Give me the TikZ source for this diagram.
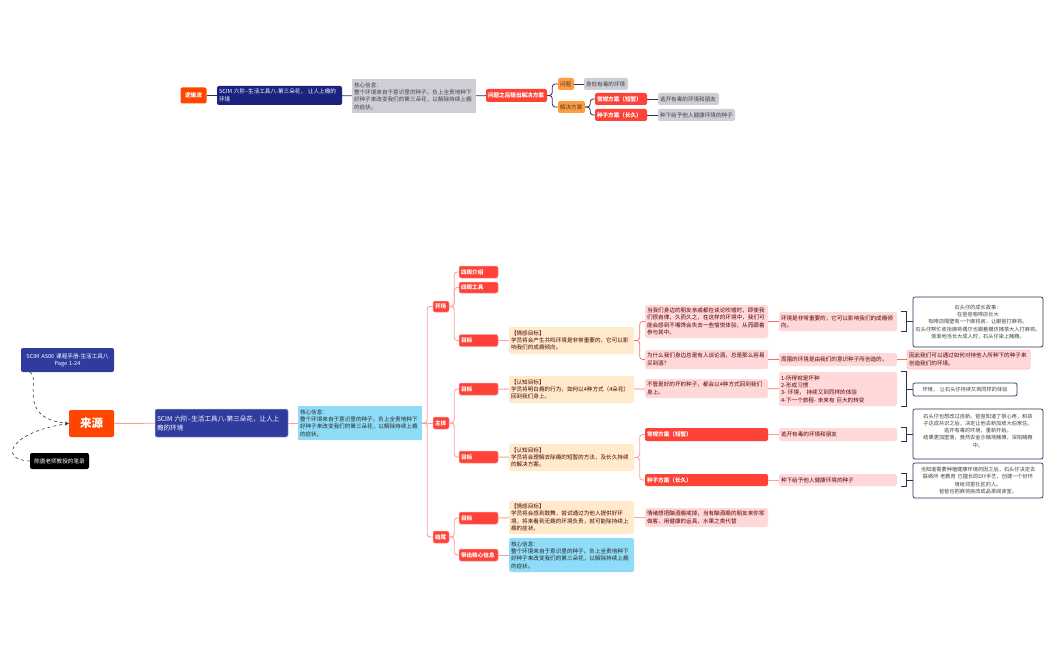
\documentclass[tikz,border=0pt]{standalone}
\usepackage{fontspec}
\setmainfont{Noto Sans CJK SC}
\XeTeXlinebreaklocale "zh"
\XeTeXlinebreakskip=0pt
\usetikzlibrary{arrows.meta,calc}
\definecolor{srcred}{HTML}{FF4500}
\definecolor{tagred}{HTML}{FF4238}
\definecolor{linkpink}{HTML}{FF9C9C}
\definecolor{softpink}{HTML}{FFD9D9}
\definecolor{cream}{HTML}{FFEBCC}
\definecolor{skyblue}{HTML}{8EDCF8}
\definecolor{ashgray}{HTML}{CDCED6}
\definecolor{amber}{HTML}{FF9D3D}
\definecolor{navy}{HTML}{1A237E}
\definecolor{indigo}{HTML}{2F3C9E}
\definecolor{inkline}{HTML}{2E2F55}
\tikzset{
	wh/.style 2 args={minimum width=#1pt,minimum height=#2pt,text width=#1pt-4pt,inner xsep=2pt,inner ysep=0pt,align=left},
	base/.style={rounded corners=2pt,font=\fontsize{5.6}{7.3}\selectfont},
	tag/.style={base,fill=tagred,draw=linkpink,line width=.5pt,text=white,font=\fontsize{5.6}{7.3}\selectfont\bfseries},
	amberbox/.style={base,fill=amber,text=black!75},
	graybox/.style={base,fill=ashgray,text=black!75},
	pinkbox/.style={base,fill=softpink,text=red!35!black},
	creambox/.style={base,fill=cream,text=red!30!black},
	bluebox/.style={base,fill=skyblue,text=black!85},
	storybox/.style={base,fill=white,draw=inkline,line width=.7pt,text=black!75,font=\fontsize{5.2}{7.2}\selectfont},
	link/.style={draw=linkpink,line width=.9pt,rounded corners=3pt},
	hotlink/.style={draw=tagred!80,line width=.7pt,rounded corners=3pt},
	inklink/.style={draw=inkline,line width=.8pt,rounded corners=3pt},
	bracket/.style={draw=inkline,line width=.8pt},
	srcarrow/.style={draw=inkline,line width=.6pt,dashed,-{Stealth[length=4pt]}}
}
\begin{document}
\begin{tikzpicture}[x=1pt,y=-1pt]
	\useasboundingbox (0,0) rectangle (1050,650);
	% top branch
	\node[base,wh={26}{16},fill=srcred,text=white,align=center,font=\fontsize{5.6}{7}\selectfont\bfseries] (flow) at (193.5,95.5) {逻辑流};
	\node[base,wh={125}{19},fill=navy,text=white] (topscim) at (279.5,95.5) {SCIM 六阶--生活工具八-第三朵花， 让人上瘾的环境};
	\node[graybox,wh={124}{34},rounded corners=0pt] (topcore) at (414,96) {核心信息：\\整个环境来自于意识里的种子。负上全责地种下好种子来改变我们的第三朵花，以解除持续上瘾的症状。};
	\node[tag,wh={61}{13},draw=none] (plan) at (516.5,95.5) {问题之后提出解决方案};
	\node[amberbox,wh={16}{12}] (issue) at (566,84) {问题};
	\node[amberbox,wh={27}{12}] (solve) at (571.5,107) {解决方案};
	\node[graybox,wh={44}{12}] (toxic) at (606,84) {身处有毒的环境};
	\node[tag,wh={52}{12},draw=none] (topshort) at (621,99) {常规方案（短暂）};
	\node[tag,wh={52}{12},draw=none] (toplong) at (621,115) {种子方案（长久）};
	\node[graybox,wh={61}{12}] (topleave) at (688.5,99) {逃开有毒的环境和朋友};
	\node[graybox,wh={77}{12}] (topseed) at (696.5,115) {种下给予他人健康环境的种子};
	\draw[inklink] (flow) -- (topscim);
	\draw[inklink] (topscim) -- (topcore);
	\draw[inklink] (topcore) -- (plan);
	\draw[inklink] (plan.east) -- ++(5,0) |- (issue.west);
	\draw[inklink] (plan.east) -- ++(5,0) |- (solve.west);
	\draw[inklink] (issue) -- (toxic);
	\draw[inklink] (solve.east) -- ++(5,0) |- (topshort.west);
	\draw[inklink] (solve.east) -- ++(5,0) |- (toplong.west);
	\draw[inklink] (topshort) -- (topleave);
	\draw[inklink] (toplong) -- (topseed);
	% source side
	\node[base,wh={93}{24},fill=indigo,text=white,align=center] (manual) at (67.5,360) {SCIM AS06 课程手册-生活工具八\\Page 1-24};
	\node[base,wh={45}{27},fill=srcred,text=white,align=center,font=\fontsize{11.5}{13}\selectfont\bfseries] (source) at (91.5,423.5) {来源};
	\node[base,wh={59}{16},fill=black,text=white,align=center] (notes) at (59.5,461) {陈唐老师教授的笔录};
	\node[base,wh={133}{28},fill=indigo,text=white,draw=indigo!40,line width=.5pt,font=\fontsize{6.6}{9}\selectfont] (scim) at (221.5,423) {SCIM 六阶--生活工具八-第三朵花，让人上瘾的环境};
	\node[bluebox,wh={124}{34},rounded corners=0pt] (core) at (360,423) {核心信息：\\整个环境来自于意识里的种子。负上全责地种下好种子来改变我们的第三朵花，以解除持续上瘾的症状。};
	\draw[srcarrow] (manual.south west) ++(9,0) .. controls (42,378) and (15,418) .. (source.west);
	\draw[srcarrow] (notes.west) .. controls (-2,460) and (10,432) .. (source.west);
	\draw[link] (source) -- (scim);
	\draw[link] (scim) -- (core);
	% parts
	\node[tag,wh={16}{11}] (open) at (441,306.5) {开场};
	\node[tag,wh={16}{12}] (body) at (441,423) {主体};
	\node[tag,wh={16}{12}] (close) at (441,537) {结尾};
	\draw[link] (core) -- (body);
	\draw[link] (core.east) -- ++(5,0) |- (open.west);
	\draw[link] (core.east) -- ++(5,0) |- (close.west);
	\node[tag,wh={39}{12}] (intro) at (478.5,272) {四周介绍};
	\node[tag,wh={39}{11}] (tool) at (478.5,287.5) {四周工具};
	\node[tag,wh={39}{12}] (goala) at (478.5,340.5) {目标};
	\node[tag,wh={39}{12}] (goalb) at (478.5,389) {目标};
	\node[tag,wh={39}{12}] (goalc) at (478.5,457) {目标};
	\node[tag,wh={39}{12}] (goald) at (478.5,518) {目标};
	\node[tag,wh={39}{12}] (bring) at (478.5,555) {带出核心信息};
	\draw[link] (open.east) -- ++(5,0) |- (intro.west);
	\draw[link] (open.east) -- ++(5,0) |- (tool.west);
	\draw[link] (open.east) -- ++(5,0) |- (goala.west);
	\draw[link] (body.east) -- ++(5,0) |- (goalb.west);
	\draw[link] (body.east) -- ++(5,0) |- (goalc.west);
	\draw[link] (close.east) -- ++(5,0) |- (goald.west);
	\draw[link] (close.east) -- ++(5,0) |- (bring.west);
	% goals
	\node[creambox,wh={125}{27}] (texta) at (571.5,340.5) {【情感目标】\\学员将会产生共鸣环境是非常重要的，它可以影响我们的成瘾倾向。};
	\node[creambox,wh={125}{27}] (textb) at (571.5,389.5) {【认知目标】\\学员将明白瘾的行为，如何以4种方式（4朵花）回到我们身上。};
	\node[creambox,wh={125}{27}] (textc) at (571.5,457.5) {【认知目标】\\学员将会理解去除瘾的短暂的方法，及长久持续的解决方案。};
	\node[creambox,wh={125}{33}] (textd) at (571.5,517.5) {【情感目标】\\学员将会感到鼓舞，尝试通过为他人提供好环境，将来看到无瘾的环境负责，就可能除持续上瘾的症状。};
	\node[bluebox,wh={125}{34}] (texte) at (571.5,555) {核心信息：\\整个环境来自于意识里的种子。负上全责地种下好种子来改变我们的第三朵花，以解除持续上瘾的症状。};
	\draw[link] (goala) -- (texta);
	\draw[link] (goalb) -- (textb);
	\draw[link] (goalc) -- (textc);
	\draw[link] (goald) -- (textd);
	\draw[link] (bring) -- (texte);
	% first column of reasons
	\node[pinkbox,wh={123}{33}] (friends) at (706.5,321.5) {当我们身边的朋友亲戚都在谈论吹嘘时，即使我们很自律，久而久之，在这样的环境中，我们可能会感到不嘴馋会失去一些愉悦体验，从而跟着参与其中。};
	\node[pinkbox,wh={123}{19}] (why) at (706.5,359.5) {为什么我们身边总是有人谈论酒，总是那么容易买到酒？};
	\node[pinkbox,wh={123}{19}] (seeds) at (706.5,388.5) {不管是好的坏的种子，都会以4种方式回到我们身上。};
	\node[tag,wh={123}{13},draw=none] (short) at (706.5,434.5) {常规方案（短暂）};
	\node[tag,wh={123}{12},draw=none] (long) at (706.5,480) {种子方案（长久）};
	\node[pinkbox,wh={123}{19}] (mood) at (706.5,517.5) {情绪想把酗酒瘾戒掉，当有酗酒瘾的朋友来你家做客，用健康的运具，水果之类代替};
	\draw[hotlink] (texta.east) -- ++(5.5,0) |- (friends.west);
	\draw[hotlink] (texta.east) -- ++(5.5,0) |- (why.west);
	\draw[hotlink] (textb) -- (seeds);
	\draw[link] (textc.east) -- ++(5.5,0) |- (short.west);
	\draw[link] (textc.east) -- ++(5.5,0) |- (long.west);
	\draw[link] (textd) -- (mood);
	% second column
	\node[pinkbox,wh={118}{19}] (matter) at (838,321.5) {环境是非常重要的，它可以影响我们的成瘾倾向。};
	\node[pinkbox,wh={118}{13}] (around) at (838,359.5) {周围的环境是由我们的意识种子所创造的。};
	\node[pinkbox,wh={118}{34}] (steps) at (838,389) {1-所得就是坏种\\2-形成习惯\\3- 环境， 持续又到同样的体验\\4-下一个旅程- 未来有 巨大的转变};
	\node[pinkbox,wh={118}{13}] (leave) at (838,434.5) {逃开有毒的环境和朋友};
	\node[pinkbox,wh={118}{12}] (plant) at (838,480) {种下给予他人健康环境的种子};
	\draw[hotlink] (friends) -- (matter);
	\draw[hotlink] (why) -- (around);
	\draw[hotlink] (seeds) -- (steps);
	\draw[link] (short) -- (leave);
	\draw[link] (long) -- (plant);
	% stories
	\node[storybox,wh={130}{50},align=center] (storya) at (978,322) {石头仔的成长故事：\\在爸爸咖啡店长大\\咖啡店隔壁有一个麻将房，让跟爸打麻将。\\石头仔帮忙收拾麻将偶尔也跟着模仿摊茶大人打麻将。\\渐渐地当长大成人时，石头仔染上赌瘾。};
	\node[pinkbox,wh={123}{19},draw=softpink!80!red,line width=.5pt] (create) at (968.5,359.5) {因此我们可以通过如何对待他人所种下的种子来创造我们的环境。};
	\node[storybox,wh={104}{13},align=center] (again) at (965,389.5) {环境， 让石头仔持续又到同样的体验};
	\node[storybox,wh={130}{50},align=center] (storyb) at (978,434) {石头仔也想改过自新。爸爸知道了很心疼，和孩\\子达成共识之后，决定让他去新加坡大伯家住。\\逃开有毒的环境，重新开始。\\结果更加堕落，竟然去金沙赌场赌博，深陷赌瘾\\中。\\\mbox{}};
	\node[storybox,wh={130}{35},align=center] (storyc) at (978,480.5) {当知道需要种植健康环境的因之后，石头仔决定去\\联络所 老教育 已擅长的DIY手艺，创建一个好环\\境给邻里社区的人。\\爸爸也把麻将房改成品茶阅读室。};
	\draw[hotlink] (around) -- (create);
	\foreach \from/\to in {matter/storya,steps/again,leave/storyb,plant/storyc}{
		\draw[bracket] ($(\from.north east)+(4,0)$) -- ++(5,0) -- ($(\from.south east)+(9,0)$) -- ++(-5,0);
		\draw[bracket] ($(\from.east)+(9,0)$) -- (\to.west |- \from.east);
	}
\end{tikzpicture}
\end{document}
